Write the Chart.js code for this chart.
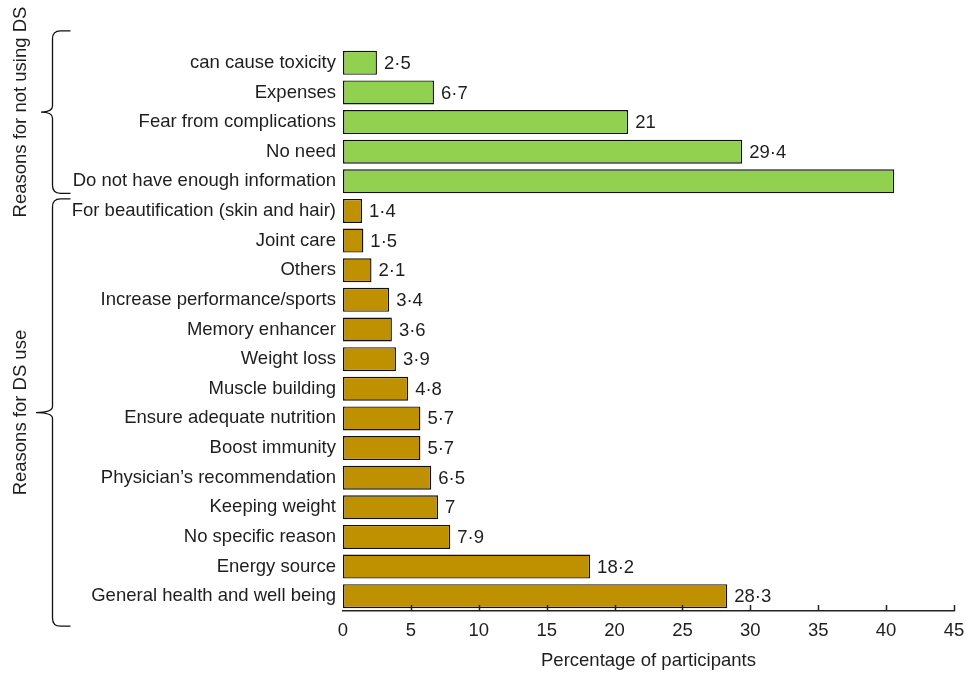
<!DOCTYPE html>
<html>
<head>
<meta charset="utf-8">
<title>Reasons for using / not using DS</title>
<script src="https://cdn.jsdelivr.net/npm/chart.js@4.4.1/dist/chart.umd.min.js"></script>
<style>
    html, body { margin: 0; padding: 0; background: #fff; }
    #wrap { width: 966px; height: 676px; }
</style>
</head>
<body>
<div id="wrap"><canvas id="chart" width="966" height="676"></canvas></div>
<script>
// Data
const notUsingReasons = ['can cause toxicity', 'Expenses', 'Fear from complications', 'No need', 'Do not have enough information'];
const notUsingValues = [2.5, 6.7, 21, 29.4, 40.6];
const useReasons = [
    'For beautification (skin and hair)', 'Joint care', 'Others', 'Increase performance/sports',
    'Memory enhancer', 'Weight loss', 'Muscle building', 'Ensure adequate nutrition',
    'Boost immunity', 'Physician\u2019s recommendation', 'Keeping weight', 'No specific reason',
    'Energy source', 'General health and well being'
];
const useValues = [1.4, 1.5, 2.1, 3.4, 3.6, 3.9, 4.8, 5.7, 5.7, 6.5, 7, 7.9, 18.2, 28.3];
const xTicks = [0, 5, 10, 15, 20, 25, 30, 35, 40, 45];
const groupTitles = ['Reasons for not using DS', 'Reasons for DS use'];
const unlabelled = ['Do not have enough information'];

const GREEN = '#92d050';
const GOLD = '#bf9000';
const FONT = "'Liberation Sans', Arial, sans-serif";
const TEXT = '#1e1e1e';
const FS = 18.5;

const labels = notUsingReasons.concat(useReasons);
const values = notUsingValues.concat(useValues);
const colors = notUsingReasons.map(() => GREEN).concat(useReasons.map(() => GOLD));

// value labels at bar ends, decimal shown with a middle dot
const valueLabels = {
    id: 'valueLabels',
    afterDatasetsDraw(chart) {
        const ctx = chart.ctx;
        const meta = chart.getDatasetMeta(0);
        ctx.save();
        ctx.font = `${FS}px ${FONT}`;
        ctx.fillStyle = TEXT;
        ctx.textAlign = 'left';
        ctx.textBaseline = 'middle';
        meta.data.forEach((bar, i) => {
            if (unlabelled.includes(labels[i])) return;
            ctx.fillText(String(values[i]).replace('.', '\u00b7'), bar.x + 7, bar.y + 1);
        });
        ctx.restore();
    }
};

// tick marks pointing up from the x axis line
const upTicks = {
    id: 'upTicks',
    afterDatasetsDraw(chart) {
        const ctx = chart.ctx;
        const x = chart.scales.x;
        const bottom = chart.chartArea.bottom;
        ctx.save();
        ctx.strokeStyle = '#222';
        ctx.lineWidth = 1.5;
        xTicks.forEach(t => {
            if (t === 0) return;
            const px = Math.round(x.getPixelForValue(t)) + 0.5;
            ctx.beginPath();
            ctx.moveTo(px, bottom);
            ctx.lineTo(px, bottom - 6);
            ctx.stroke();
        });
        ctx.restore();
    }
};

// curly braces + rotated group titles on the left
function drawBrace(ctx, xv, top, bottom, tipX) {
    const mid = (top + bottom) / 2;
    const r = 8;
    ctx.beginPath();
    ctx.moveTo(xv + 18, top);
    ctx.lineTo(xv + r, top);
    ctx.quadraticCurveTo(xv, top, xv, top + r);
    ctx.lineTo(xv, mid - 6);
    ctx.quadraticCurveTo(xv, mid, tipX, mid);
    ctx.quadraticCurveTo(xv, mid, xv, mid + 6);
    ctx.lineTo(xv, bottom - r);
    ctx.quadraticCurveTo(xv, bottom, xv + r, bottom);
    ctx.lineTo(xv + 18, bottom);
    ctx.stroke();
}

const groupBraces = {
    id: 'groupBraces',
    afterDraw(chart) {
        const ctx = chart.ctx;
        const y = chart.scales.y;
        const n1 = notUsingReasons.length;
        const first = y.getPixelForValue(0);
        const lastGreen = y.getPixelForValue(n1 - 1);
        const firstGold = y.getPixelForValue(n1);
        const last = y.getPixelForValue(labels.length - 1);
        const spans = [
            [first - 32, lastGreen + 12, 41],
            [firstGold - 12, last + 30, 36]
        ];
        ctx.save();
        ctx.strokeStyle = '#111';
        ctx.lineWidth = 1.3;
        ctx.font = `${FS}px ${FONT}`;
        ctx.fillStyle = TEXT;
        ctx.textAlign = 'center';
        ctx.textBaseline = 'middle';
        spans.forEach(([top, bottom, tip], i) => {
            drawBrace(ctx, 52.5, top, bottom, tip);
            const mid = (top + bottom) / 2;
            ctx.save();
            ctx.translate(21, mid);
            ctx.rotate(-Math.PI / 2);
            ctx.fillText(groupTitles[i], 0, 0);
            ctx.restore();
        });
        ctx.restore();
    }
};

document.addEventListener('DOMContentLoaded', function() {
    const ctx = document.getElementById('chart').getContext('2d');
    new Chart(ctx, {
        type: 'bar',
        data: {
            labels: labels,
            datasets: [{
                data: values,
                backgroundColor: colors,
                borderColor: '#111',
                borderWidth: 1.4,
                borderSkipped: false,
                categoryPercentage: 1,
                barPercentage: 0.81,
            }],
        },
        options: {
            indexAxis: 'y',
            responsive: false,
            animation: false,
            layout: { padding: { top: 48, right: 0, bottom: 0, left: 0 } },
            plugins: {
                legend: { display: false },
                tooltip: { enabled: false },
            },
            scales: {
                x: {
                    min: 0,
                    max: 45,
                    afterBuildTicks: scale => { scale.ticks = xTicks.map(v => ({ value: v })); },
                    afterFit: scale => {
                        scale.height = 65;
                        scale.paddingRight = 12;
                    },
                    grid: { display: false, drawTicks: false },
                    border: { display: true, color: '#222', width: 1.5 },
                    ticks: {
                        padding: 9,
                        color: TEXT,
                        font: { family: FONT, size: FS },
                        maxRotation: 0,
                    },
                    title: {
                        display: true,
                        text: 'Percentage of participants',
                        color: TEXT,
                        font: { family: FONT, size: FS },
                        padding: { top: 4, bottom: 4 },
                    },
                },
                y: {
                    afterFit: scale => { scale.width = 343; },
                    grid: { display: false, drawTicks: false },
                    border: { display: false },
                    ticks: {
                        padding: 7,
                        color: TEXT,
                        font: { family: FONT, size: FS },
                        autoSkip: false,
                    },
                },
            },
        },
        plugins: [valueLabels, upTicks, groupBraces],
    });
});
</script>
</body>
</html>
